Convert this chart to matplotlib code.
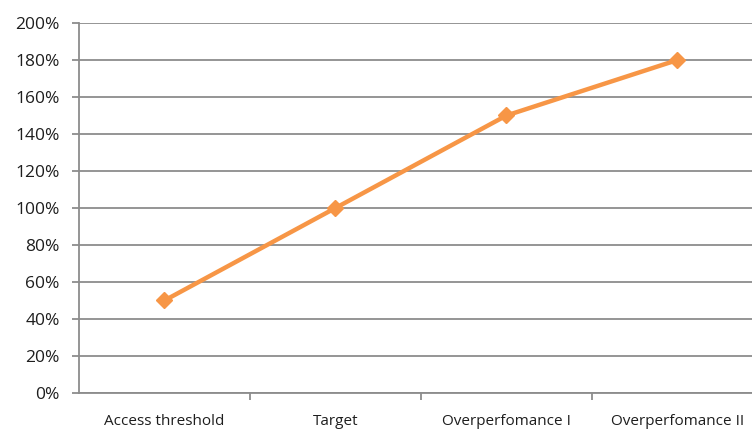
import matplotlib.pyplot as plt
from matplotlib.ticker import FuncFormatter, FixedLocator

# categories and values (share of target)
stages = ["Access threshold", "Target", "Overperfomance I", "Overperfomance II"]
payout = [50, 100, 150, 180]

y_ticks = list(range(0, 201, 20))

grid_col = "#8c8c8c"
line_col = "#F79646"
text_col = "#1e1e1e"

plt.rcParams['font.family'] = ['Open Sans', 'DejaVu Sans']

fig = plt.figure(figsize=(7.52, 4.34), dpi=100)
ax = fig.add_axes([0.105, 0.0945, 0.9096, 0.8525])

x = list(range(len(stages)))
ax.plot(x, payout, color=line_col, lw=3.2, marker="D", markersize=8,
        markerfacecolor=line_col, markeredgecolor=line_col, zorder=3)

ax.set_xlim(-0.5, len(stages) - 0.5)
ax.set_ylim(0, 200)
ax.set_yticks(y_ticks)
ax.yaxis.set_major_formatter(FuncFormatter(lambda v, p: f"{int(v)}%"))
ax.yaxis.grid(True, color=grid_col, lw=1.3)
ax.set_axisbelow(True)

# category labels in the middle, tick marks between categories
ax.set_xticks(x)
ax.set_xticklabels(stages)
ax.xaxis.set_minor_locator(FixedLocator([i + 0.5 for i in x[:-1]]))
ax.tick_params(axis="x", which="major", length=0, pad=15, labelsize=11, labelcolor=text_col)
ax.tick_params(axis="x", which="minor", length=5, width=1.3, color=grid_col)
ax.tick_params(axis="y", length=5, width=1.3, color=grid_col, pad=9, labelsize=12.5, labelcolor=text_col)

for side in ["top", "right"]:
    ax.spines[side].set_visible(False)
for side in ["left", "bottom"]:
    ax.spines[side].set_color(grid_col)
    ax.spines[side].set_linewidth(1.3)

fig.savefig("out.png", dpi=100)
